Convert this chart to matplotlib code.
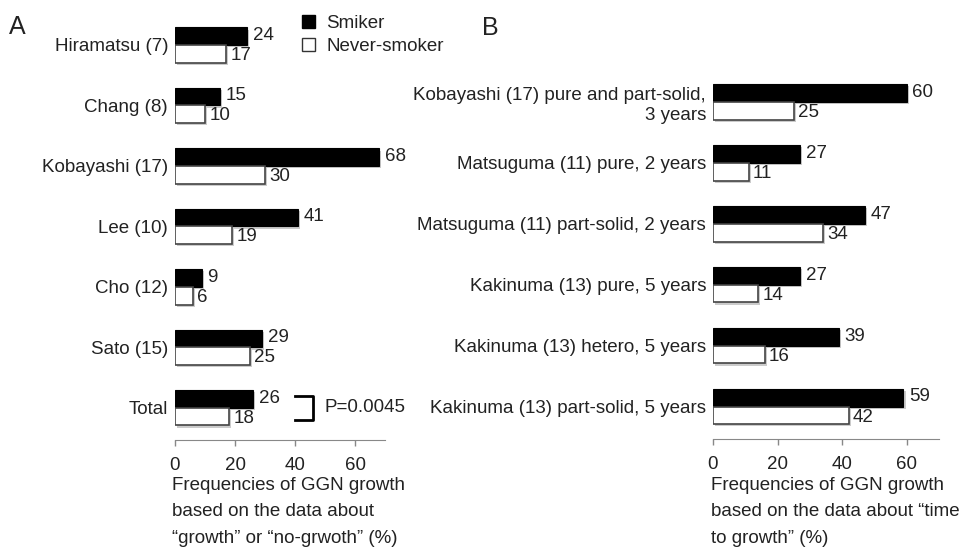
import numpy as np
import matplotlib.pyplot as plt
from matplotlib.patches import Patch
import matplotlib.patheffects as pe

plt.rcParams['font.family'] = ['Liberation Sans', 'DejaVu Sans']

# panel A - "growth" or "no-growth"
a_labels = ["Hiramatsu (7)", "Chang (8)", "Kobayashi (17)", "Lee (10)",
            "Cho (12)", "Sato (15)", "Total"]
a_smoker = [24, 15, 68, 41, 9, 29, 26]
a_never = [17, 10, 30, 19, 6, 25, 18]

# panel B - "time to growth"
b_labels = ["Kobayashi (17) pure and part-solid,\n3 years",
            "Matsuguma (11) pure, 2 years",
            "Matsuguma (11) part-solid, 2 years",
            "Kakinuma (13) pure, 5 years",
            "Kakinuma (13) hetero, 5 years",
            "Kakinuma (13) part-solid, 5 years"]
b_smoker = [60, 27, 47, 27, 39, 59]
b_never = [25, 11, 34, 14, 16, 42]

ticks = [0, 20, 40, 60]
txt = '#222222'
fs = 13.5
W, H = 965, 548

fig = plt.figure(figsize=(W / 100, H / 100), dpi=100)


def px_axes(x0, x1, y_top, y_bot):
    return fig.add_axes([x0 / W, 1 - y_bot / H, (x1 - x0) / W, (y_bot - y_top) / H])


shadow = [pe.SimplePatchShadow(offset=(1.5, -1.5), shadow_rgbFace='0.55', alpha=0.45), pe.Normal()]


def draw_panel(ax, labels, smoker, never, ytop):
    n = len(labels)
    y = np.arange(n)
    h = 0.29
    b1 = ax.barh(y - h / 2, smoker, height=h, color='black', edgecolor='black', linewidth=0.8)
    b2 = ax.barh(y + h / 2, never, height=h, color='white', edgecolor='#444444', linewidth=1.2)
    for b in list(b1) + list(b2):
        b.set_path_effects(shadow)
    for i in range(n):
        ax.annotate(str(smoker[i]), (smoker[i], y[i] - 0.16), xytext=(4, 0),
                    textcoords='offset points', va='center', ha='left', fontsize=fs, color=txt)
        ax.annotate(str(never[i]), (never[i], y[i] + 0.17), xytext=(3, 0),
                    textcoords='offset points', va='center', ha='left', fontsize=fs, color=txt)
    ax.set_xlim(0, 70)
    ax.set_ylim(n - 1 + 0.53, ytop)
    ax.set_yticks(y)
    ax.set_yticklabels(labels, fontsize=fs, color=txt)
    ax.tick_params(axis='y', length=0, pad=5)
    ax.set_xticks(ticks)
    ax.tick_params(axis='x', length=4, width=1, color='#888888', pad=8, labelsize=fs, labelcolor=txt)
    for s in ['top', 'right', 'left']:
        ax.spines[s].set_visible(False)
    ax.spines['bottom'].set_color('#888888')
    ax.set_facecolor('none')


axA = px_axes(175, 385, 45 - 0.6 * 60.5, 440)
draw_panel(axA, a_labels, a_smoker, a_never, -0.6)
axB = px_axes(713, 939, 102 - 0.6 * 61, 439)
draw_panel(axB, b_labels, b_smoker, b_never, -0.6)

# P-value bracket next to Total
axA.plot([40, 46, 46, 40], [5.8, 5.8, 6.2, 6.2], color='black', lw=2, clip_on=False)
axA.text(50, 6.0, "P=0.0045", va='center', ha='left', fontsize=fs, color=txt)

# legend
handles = [Patch(facecolor='black', edgecolor='black'),
           Patch(facecolor='white', edgecolor='#333333')]
fig.legend(handles, ["Smiker", "Never-smoker"], loc='upper left',
           bbox_to_anchor=(285 / W, 1 + 2 / H), frameon=False, fontsize=fs,
           handlelength=0.7, handleheight=0.7, handletextpad=0.6, labelspacing=0.3,
           labelcolor=txt)

# panel letters
fig.text(9 / W, 1 - 27 / H, "A", fontsize=18, va='center', ha='left', color=txt)
fig.text(482 / W, 1 - 28 / H, "B", fontsize=18, va='center', ha='left', color=txt)

# axis titles
fig.text(172 / W, 1 - 477 / H,
         "Frequencies of GGN growth\nbased on the data about\n\u201cgrowth\u201d or \u201cno-grwoth\u201d (%)",
         va='top', ha='left', fontsize=fs, color=txt, linespacing=1.72)
fig.text(711 / W, 1 - 477 / H,
         "Frequencies of GGN growth\nbased on the data about \u201ctime\nto growth\u201d (%)",
         va='top', ha='left', fontsize=fs, color=txt, linespacing=1.72)

fig.savefig('out.png', dpi=100)
